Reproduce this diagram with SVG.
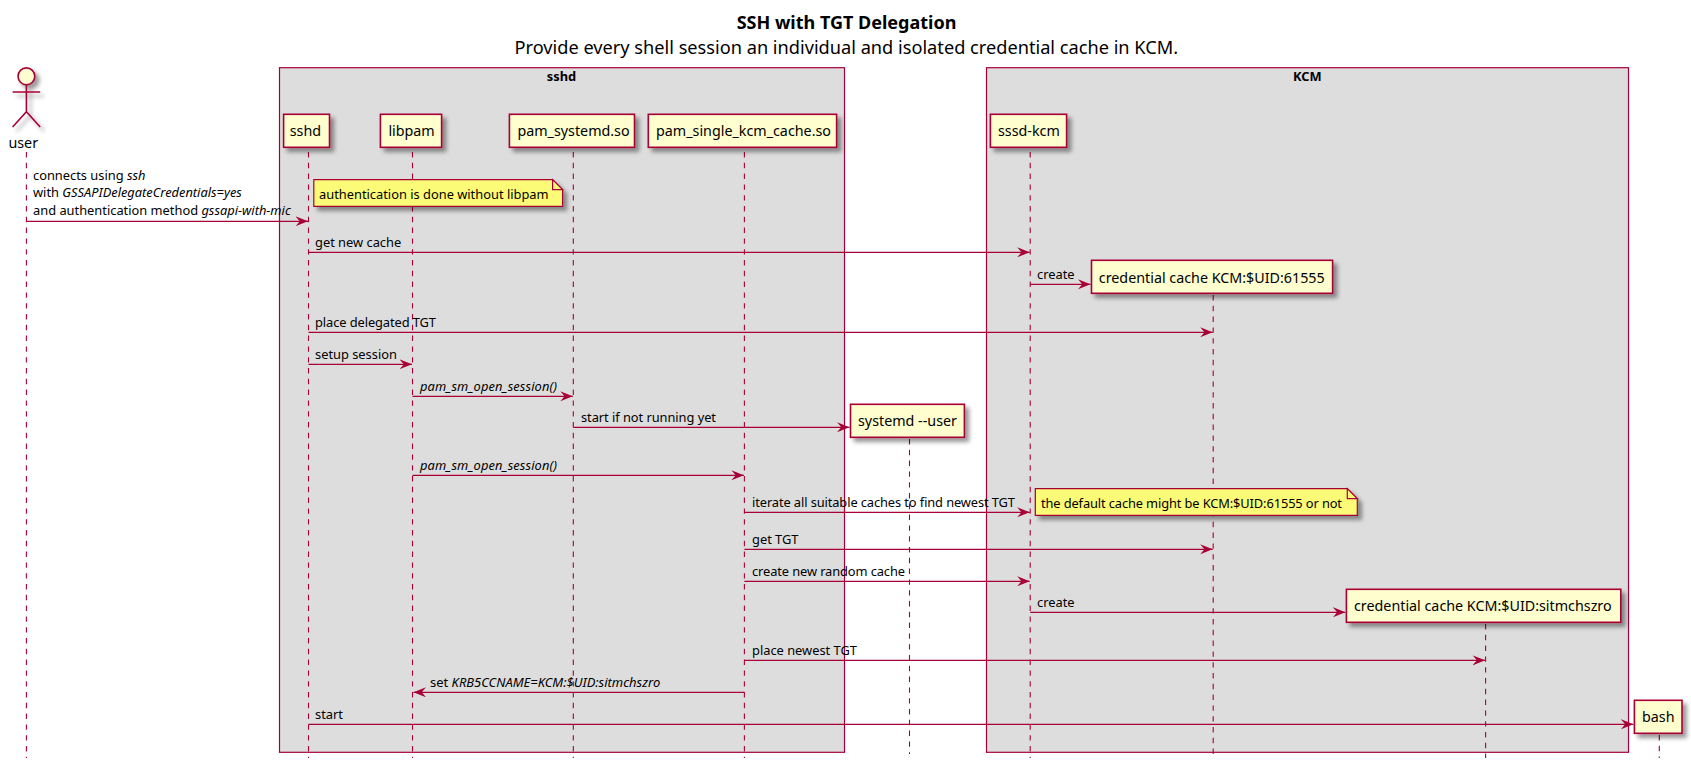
<svg xmlns="http://www.w3.org/2000/svg" width="1691" height="769" viewBox="0 0 1691 769">
<style>
text{font-family:"Noto Sans","Open Sans",sans-serif;fill:#000}
.m{font-size:12.85px}
.p{font-size:14.3px}
.b{font-size:12.85px;font-weight:bold;text-anchor:middle}
.i{font-style:italic}
.box{fill:#DDDDDD;stroke:#A80036;stroke-width:1.2}
.part{fill:#FEFECE;stroke:#A80036;stroke-width:1.6;filter:url(#sh)}
.note{fill:#FBFB77;stroke:#A80036;stroke-width:1.2;filter:url(#sh)}
.fold{fill:#FBFB77;stroke:#A80036;stroke-width:1.2}
.life{stroke:#A80036;stroke-width:1.1;stroke-dasharray:5.4,5.4;fill:none}
.msg{stroke:#A80036;stroke-width:1.2;fill:none;marker-end:url(#arr)}
.act{fill:none;stroke:#A80036;stroke-width:1.6}
</style>
<defs>
<filter id="sh" x="-20%" y="-30%" width="140%" height="180%"><feGaussianBlur in="SourceAlpha" stdDeviation="2.1"/><feColorMatrix type="matrix" values="0 0 0 0 0  0 0 0 0 0  0 0 0 0 0  0 0 0 0.4 0"/><feOffset dx="4.3" dy="4.3" result="o"/><feBlend in="SourceGraphic" in2="o" mode="normal"/></filter>
<marker id="arr" markerUnits="userSpaceOnUse" markerWidth="14" markerHeight="12" refX="12.5" refY="5" orient="auto"><path d="M0,0 L12.5,5 L0,10 L4.3,5 Z" fill="#A80036"/></marker>
</defs>
<rect width="1691" height="769" fill="#fff"/>
<g id="title">
<text x="846.5" y="29" text-anchor="middle" style="font-size:18px;font-weight:bold">SSH with TGT Delegation</text>
<text x="846.3" y="54" text-anchor="middle" style="font-size:18.2px">Provide every shell session an individual and isolated credential cache in KCM.</text>
</g>
<g id="box-sshd"><rect class="box" x="279.5" y="67.7" width="565" height="684.6"/><text class="b" x="561.5" y="81">sshd</text></g>
<g id="box-kcm"><rect class="box" x="986.5" y="67.7" width="642" height="684.6"/><text class="b" x="1307.4" y="81">KCM</text></g>
<g id="lifelines">
<line class="life" x1="26.4" y1="152" x2="26.4" y2="758"/>
<line class="life" x1="308.5" y1="152" x2="308.5" y2="758"/>
<line class="life" x1="412.5" y1="152" x2="412.5" y2="758"/>
<line class="life" x1="573.3" y1="152" x2="573.3" y2="758"/>
<line class="life" x1="744.4" y1="152" x2="744.4" y2="758"/>
<line class="life" x1="1030.2" y1="152" x2="1030.2" y2="758"/>
<line class="life" x1="1213.2" y1="295" x2="1213.2" y2="758"/>
<line class="life" x1="909.5" y1="439" x2="909.5" y2="754"/>
<line class="life" x1="1485.6" y1="624" x2="1485.6" y2="758"/>
<line class="life" x1="1659.3" y1="735" x2="1659.3" y2="758"/>
</g>
<g id="user">
<g filter="url(#sh)"><circle cx="26.4" cy="76.3" r="8.4" fill="#FEFECE" stroke="#A80036" stroke-width="1.6"/>
<path class="act" d="M26.4,84.7V111.7M12.6,92H40.2M12.6,127L26.4,111.7L40.2,127"/></g>
<text class="p" x="8.4" y="148">user</text>
</g>
<g id="sshd"><rect class="part" x="283.6" y="114.3" width="45.9" height="33"/><text class="p" x="289.7" y="136">sshd</text></g>
<g id="libpam"><rect class="part" x="380.4" y="114.3" width="61.2" height="33"/><text class="p" x="388.4" y="136">libpam</text></g>
<g id="pam_systemd"><rect class="part" x="509.4" y="114.3" width="125.1" height="33"/><text class="p" x="517.4" y="136">pam_systemd.so</text></g>
<g id="pam_single_kcm_cache"><rect class="part" x="648.3" y="114.3" width="188.3" height="33"/><text class="p" x="656" y="136">pam_single_kcm_cache.so</text></g>
<g id="sssd-kcm"><rect class="part" x="990.4" y="114.3" width="76.2" height="33"/><text class="p" x="998" y="136">sssd-kcm</text></g>
<g id="cache-61555"><rect class="part" x="1091.5" y="260.3" width="241.1" height="33"/><text class="p" x="1098.8" y="283">credential cache KCM:$UID:61555</text></g>
<g id="systemd-user"><rect class="part" x="850.5" y="404.3" width="113.9" height="33"/><text class="p" x="858" y="426">systemd --user</text></g>
<g id="cache-sitmchszro"><rect class="part" x="1346.4" y="589.3" width="274.4" height="33"/><text class="p" x="1354" y="611">credential cache KCM:$UID:sitmchszro</text></g>
<g id="bash"><rect class="part" x="1634.4" y="700.3" width="47.6" height="33"/><text class="p" x="1642" y="722">bash</text></g>
<g id="note-auth"><path class="note" d="M313.8,179.7H552.6L562.6,189.7V206.3H313.8Z"/><path class="fold" d="M552.6,179.7V189.7H562.6Z"/><text class="m" x="319" y="199">authentication is done without libpam</text></g>
<g id="note-default"><path class="note" d="M1035.3,488.7H1347.3L1357.3,498.7V515.3H1035.3Z"/><path class="fold" d="M1347.3,488.7V498.7H1357.3Z"/><text class="m" x="1041" y="508" textLength="301">the default cache might be KCM:$UID:61555 or not</text></g>
<g id="connectors">
<line class="msg" x1="26.4" y1="221.3" x2="308" y2="221.3"/>
<line class="msg" x1="308.5" y1="252.3" x2="1029.7" y2="252.3"/>
<line class="msg" x1="1030.2" y1="284.3" x2="1090.5" y2="284.3"/>
<line class="msg" x1="308.5" y1="332.3" x2="1212.7" y2="332.3"/>
<line class="msg" x1="308.5" y1="364.3" x2="412" y2="364.3"/>
<line class="msg" x1="412.5" y1="396.3" x2="572.8" y2="396.3"/>
<line class="msg" x1="573.3" y1="427.3" x2="849.5" y2="427.3"/>
<line class="msg" x1="412.5" y1="475.3" x2="743.9" y2="475.3"/>
<line class="msg" x1="744.4" y1="512.3" x2="1029.7" y2="512.3"/>
<line class="msg" x1="744.4" y1="549.3" x2="1212.7" y2="549.3"/>
<line class="msg" x1="744.4" y1="581.3" x2="1029.7" y2="581.3"/>
<line class="msg" x1="1030.2" y1="612.3" x2="1345.4" y2="612.3"/>
<line class="msg" x1="744.4" y1="660.3" x2="1485.1" y2="660.3"/>
<line class="msg" x1="744.4" y1="692.3" x2="413.5" y2="692.3"/>
<line class="msg" x1="308.5" y1="724.3" x2="1633.4" y2="724.3"/>
</g>
<g id="labels">
<text class="m" x="33" y="179.5">connects using <tspan class="i">ssh</tspan></text>
<text class="m" x="33" y="197">with <tspan class="i">GSSAPIDelegateCredentials=yes</tspan></text>
<text class="m" x="33" y="214.5">and authentication method <tspan class="i">gssapi-with-mic</tspan></text>
<text class="m" x="315" y="247">get new cache</text>
<text class="m" x="1037" y="279">create</text>
<text class="m" x="315" y="327" textLength="121">place delegated TGT</text>
<text class="m" x="315" y="359">setup session</text>
<text class="m i" x="420" y="391" textLength="137">pam_sm_open_session()</text>
<text class="m" x="581" y="422" textLength="135">start if not running yet</text>
<text class="m i" x="420" y="470" textLength="137">pam_sm_open_session()</text>
<text class="m" x="752" y="507" textLength="263">iterate all suitable caches to find newest TGT</text>
<text class="m" x="752" y="544">get TGT</text>
<text class="m" x="752" y="576" textLength="153">create new random cache</text>
<text class="m" x="1037" y="607">create</text>
<text class="m" x="752" y="655">place newest TGT</text>
<text class="m" x="430" y="687" style="font-size:12.97px">set <tspan class="i">KRB5CCNAME=KCM:$UID:sitmchszro</tspan></text>
<text class="m" x="315" y="719">start</text>
</g>
</svg>
